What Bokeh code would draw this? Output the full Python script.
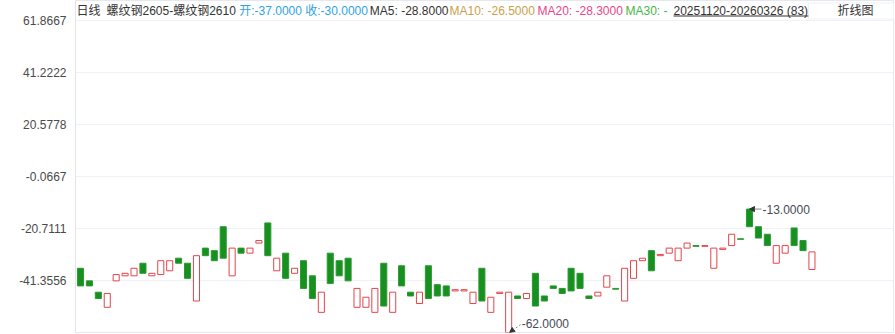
from bokeh.plotting import figure
from bokeh.models import (Range1d, FixedTicker, PrintfTickFormatter, Label, Arrow,
                          NormalHead, BoxAnnotation, ColumnDataSource)
from bokeh.core.properties import value
from bokeh.embed import file_html
from bokeh.resources import INLINE

# ---------------- data ----------------
opens = [-36.5, -41.5, -46.0, -52.0, -41.5, -39.5, -39.5, -34.5, -39.5, -39.0,
         -37.5, -32.5, -34.5, -49.5, -28.5, -29.5, -20.0, -39.5, -28.5, -30.5,
         -26.5, -18.5, -37.5, -30.5, -38.5, -33.5, -39.5, -54.0, -30.5, -33.5,
         -32.5, -52.0, -52.0, -54.0, -34.5, -54.0, -35.5, -46.0, -50.5, -35.5,
         -43.0, -43.5, -45.5, -45.5, -50.5, -36.5, -54.0, -46.5, -62.0, -47.5,
         -48.5, -38.5, -47.5, -43.5, -44.5, -36.5, -38.5, -47.5, -47.5, -44.0,
         -44.5, -49.5, -40.5, -33.5, -29.5, -31.5, -30.5, -33.5, -28.5, -27.5,
         -27.8, -36.5, -29.0, -27.5, -24.8, -13.0, -20.0, -23.0, -34.5, -30.5,
         -20.5, -25.5, -37.0]
closes = [-43.5, -43.5, -48.5, -46.5, -39.0, -38.5, -36.5, -38.5, -38.5, -33.5,
          -33.5, -34.5, -40.5, -31.5, -31.5, -33.5, -32.5, -28.5, -30.5, -28.5,
          -25.5, -31.5, -32.5, -40.5, -36.5, -44.5, -48.5, -46.0, -42.5, -39.5,
          -41.5, -44.5, -48.0, -44.5, -51.5, -46.0, -43.5, -47.5, -46.0, -48.5,
          -47.5, -47.5, -45.0, -45.0, -46.0, -49.5, -48.0, -46.0, -46.0, -48.5,
          -46.5, -51.5, -49.5, -44.5, -46.5, -45.5, -44.5, -48.5, -46.0, -39.5,
          -44.8, -36.5, -33.5, -32.5, -37.5, -31.0, -28.5, -28.5, -26.5, -27.8,
          -27.5, -28.5, -28.5, -23.0, -25.0, -20.0, -24.5, -27.5, -27.5, -27.5,
          -27.5, -29.5, -30.0]
y_ticks = [-41.3556, -20.7111, -0.0667, 20.5778, 41.2222, 61.8667]
y_floor = -62.0
period_name = "日线"
pair_name = "螺纹钢2605-螺纹钢2610"
ma_names = ["MA5", "MA10", "MA20", "MA30"]
ma_values = [-28.8, -26.5, -28.3, None]
start_date, end_date = "20251120", "20260326"
button_text = "折线图"

# ---------------- layout ----------------
W, H = 895, 334
BL, BR, BB = 75, 2, 2
HEADER = 20                      # header strip above the price area
FW, FH = W - BL - BR, H - BB     # frame covers header strip too
SLOT = 8.92
X0 = -5 / SLOT
XR = Range1d(X0, X0 + FW / SLOT)
PPU = (FH - HEADER) / (y_ticks[-1] - y_floor)
YR = Range1d(y_floor, y_ticks[-1] + HEADER / PPU)

FONT = "Liberation Sans, Noto Sans CJK SC"


def sy(canvas_y):
    """canvas y (from top) -> frame screen units (from frame bottom)"""
    return (H - BB) - canvas_y


p = figure(width=W, height=H, output_backend="svg", toolbar_location=None,
           x_range=XR, y_range=YR, title=None,
           min_border_left=BL, min_border_right=BR, min_border_top=0,
           min_border_bottom=BB)
p.background_fill_color = "white"
p.border_fill_color = "white"
p.outline_line_color = "#e6e8ef"

p.xaxis.visible = False
p.xgrid.visible = False
p.ygrid.grid_line_color = "#f0f1f6"
p.ygrid.ticker = FixedTicker(ticks=y_ticks)
p.yaxis.ticker = FixedTicker(ticks=y_ticks)
p.yaxis.formatter = PrintfTickFormatter(format="%.4f")
p.yaxis.major_tick_line_color = None
p.yaxis.minor_tick_line_color = None
p.yaxis.axis_line_color = "#e1e4ee"
p.yaxis.major_label_standoff = 3
p.yaxis.major_label_text_font_size = "12px"
p.yaxis.major_label_text_font = "Liberation Sans"
p.yaxis.major_label_text_color = "#4a4a4a"

# ---------------- candles ----------------
idx = list(range(len(opens)))
up = [i for i in idx if closes[i] > opens[i]]
dn = [i for i in idx if closes[i] <= opens[i]]

src_up = ColumnDataSource(dict(x=up, top=[closes[i] for i in up],
                               bottom=[opens[i] for i in up]))
src_dn = ColumnDataSource(dict(x=dn, top=[opens[i] for i in dn],
                               bottom=[closes[i] for i in dn]))
p.vbar(x="x", top="top", bottom="bottom", width=0.68, source=src_dn,
       fill_color="#17901f", line_color="#2a9a32", line_width=1)
p.vbar(x="x", top="top", bottom="bottom", width=0.68, source=src_up,
       fill_color="white", line_color="#e5444b", line_width=1)

# ---------------- max / min markers ----------------
i_max = max(idx, key=lambda i: max(opens[i], closes[i]))
v_max = max(opens[i_max], closes[i_max])
i_min = min(idx, key=lambda i: min(opens[i], closes[i]))
v_min = min(opens[i_min], closes[i_min])

p.add_layout(Arrow(end=NormalHead(size=5, fill_color="#333", line_color="#333"),
                   x_start=i_max + 12 / SLOT, y_start=v_max,
                   x_end=i_max, y_end=v_max, line_color="#888", line_width=1))
p.add_layout(Label(x=i_max + 13 / SLOT, y=v_max, text=f"{v_max:.4f}",
                   text_baseline="middle", text_align="left",
                   text_font_size="12px", text_font=FONT, text_color="#454a58"))

p.add_layout(Arrow(end=NormalHead(size=5, fill_color="#333", line_color="#333"),
                   x_start=i_min + 12 / SLOT, y_start=v_min + 8 / PPU,
                   x_end=i_min + 0.1, y_end=v_min, line_color="#888", line_width=1,
                   line_dash="2 2"))
p.add_layout(Label(x=i_min + 13 / SLOT, y=v_min + 9 / PPU, text=f"{v_min:.4f}",
                   text_baseline="middle", text_align="left",
                   text_font_size="12px", text_font=FONT, text_color="#454a58"))

# ---------------- header ----------------
HY = sy(10)


def hdr(x_canvas, text, color):
    p.add_layout(Label(x=x_canvas - BL, y=HY, x_units="screen", y_units="screen",
                       text=text, text_baseline="middle", text_align="left",
                       text_font_size="12px", text_font=FONT, text_color=color))


def fmt(v):
    return "-" if v is None else f"{v:.4f}"


hdr(76, period_name, "#333333")
hdr(106, pair_name, "#333333")
hdr(238.7, f"开:{opens[-1]:.4f} 收:{closes[-1]:.4f}", "#30a2e6")
ma_x = [369.3, 449, 537, 625]
ma_colors = ["#333333", "#c9a24c", "#e8468a", "#45b649"]
for nm, v, xx, col in zip(ma_names, ma_values, ma_x, ma_colors):
    hdr(xx, f"{nm}: {fmt(v)}", col)
hdr(673, f"{start_date}-{end_date} ({len(opens)})", "#333333")
p.add_layout(BoxAnnotation(left=673 - BL, right=810 - BL, bottom=sy(16),
                           top=sy(15), left_units="screen",
                           right_units="screen", top_units="screen",
                           bottom_units="screen", fill_color="#333333",
                           fill_alpha=1, line_color=None))

# button box and text
p.add_layout(BoxAnnotation(left=808 - BL, right=905 - BL, bottom=sy(18.5),
                           top=sy(2.5), left_units="screen",
                           right_units="screen", top_units="screen",
                           bottom_units="screen", fill_color="white",
                           fill_alpha=1, line_color="#c9cdd6", line_width=1))
p.add_layout(Label(x=855 - BL, y=HY, x_units="screen", y_units="screen",
                   text=button_text, text_baseline="middle", text_align="center",
                   text_font_size="12px", text_font=FONT, text_color="#333333"))

open("out.html", "w").write(file_html(p, INLINE))
